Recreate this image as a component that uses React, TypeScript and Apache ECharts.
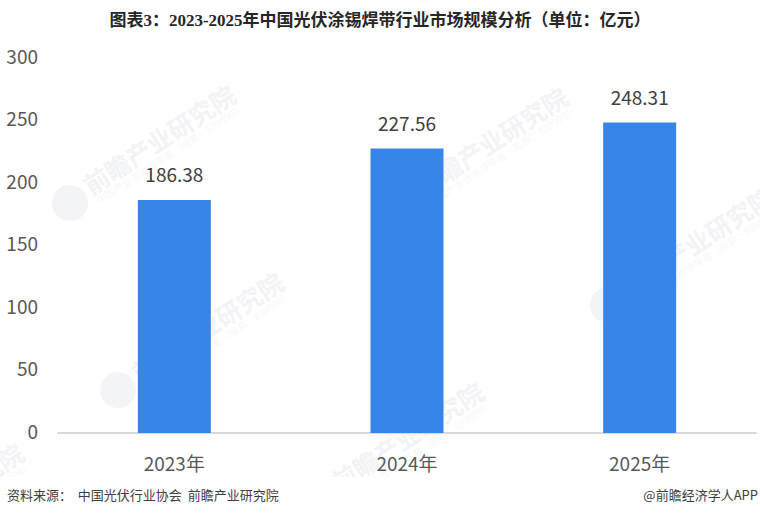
import React from "react";
import * as echarts from "echarts";

const categories = ["2023年", "2024年", "2025年"];
const values = [186.38, 227.56, 248.31];
const yTicks = [0, 50, 100, 150, 200, 250, 300];
const title = "图表3：2023-2025年中国光伏涂锡焊带行业市场规模分析（单位：亿元）";
const source = "资料来源：  中国光伏行业协会  前瞻产业研究院";
const credit = "@前瞻经济学人APP";
const wmMain = "前瞻产业研究院";
const wmSub = "中国产业咨询领导者（股票：839599）";
const wmSpots = [
  [70, 203],
  [402, 205],
  [118, 390],
  [608, 305],
  [318, 500],
  [-142, 561],
];

const sans = "'Noto Sans CJK SC', 'Noto Sans', sans-serif";

function watermark(x: number, y: number) {
  return {
    type: "group",
    x,
    y,
    rotation: (33 * Math.PI) / 180,
    silent: true,
    z: 0,
    children: [
      { type: "circle", shape: { cx: 0, cy: 0, r: 18 }, style: { fill: "#f3f4f8" } },
      { type: "text", x: 22, y: -18, style: { text: wmMain, fill: "#f2f3f6", font: `bold 25px ${sans}` } },
      { type: "text", x: 24, y: 8, style: { text: wmSub, fill: "#f7f7f9", font: `10px ${sans}` } },
    ],
  };
}

export default function App() {
  const ref = React.useRef<HTMLDivElement>(null);

  React.useEffect(() => {
    if (!ref.current) return;
    document.body.style.margin = "0";
    const c = echarts.init(ref.current, undefined, { renderer: "svg" });
    c.setOption({
      animation: false,
      backgroundColor: "#ffffff",
      grid: { left: 58, right: 4, top: 58, bottom: 84 },
      xAxis: {
        type: "category",
        data: categories,
        axisTick: { show: false },
        axisLine: { lineStyle: { color: "#d9d9d9", width: 2 } },
        axisLabel: { color: "#595959", fontSize: 19, fontFamily: sans, margin: 20 },
      },
      yAxis: {
        type: "value",
        min: yTicks[0],
        max: yTicks[yTicks.length - 1],
        interval: 50,
        splitLine: { show: false },
        axisLine: { show: false },
        axisTick: { show: false },
        axisLabel: { color: "#595959", fontSize: 19, fontFamily: sans, margin: 20, verticalAlign: "bottom", lineHeight: 6 },
      },
      series: [
        {
          type: "bar",
          data: values,
          barWidth: 73,
          z: 5,
          itemStyle: { color: "#3785e8" },
          label: {
            show: true,
            position: "top",
            distance: 17,
            color: "#404040",
            fontSize: 19,
            fontFamily: sans,
            formatter: (p: any) => p.value.toFixed(2),
          },
        },
      ],
      graphic: [
        ...wmSpots.map(([x, y]) => watermark(x, y)),
        { type: "rect", shape: { x: 0, y: 477, width: 760, height: 40 }, style: { fill: "#ffffff" }, z: 1, silent: true },
        {
          type: "text",
          left: "center",
          top: 12,
          z: 2,
          style: {
            text: title,
            fill: "#262626",
            font: `bold 17px 'Liberation Serif', 'Noto Sans CJK SC', serif`,
          },
        },
        {
          type: "text",
          left: 7,
          top: 488,
          z: 2,
          style: { text: source, fill: "#404040", font: `13px ${sans}` },
        },
        {
          type: "text",
          right: 2,
          top: 488,
          z: 2,
          style: { text: credit, fill: "#404040", font: `13px ${sans}` },
        },
      ],
    });
    return () => c.dispose();
  }, []);

  return <div ref={ref} style={{ width: 760, height: 517 }} />;
}
